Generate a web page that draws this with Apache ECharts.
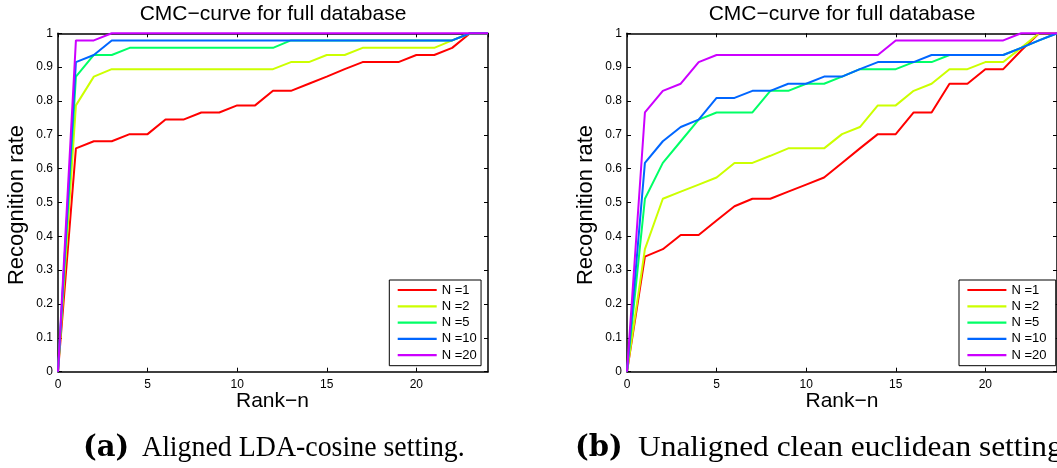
<!DOCTYPE html>
<html><head><meta charset="utf-8">
<script src="https://cdn.jsdelivr.net/npm/echarts@6/dist/echarts.min.js"></script>
<style>html,body{margin:0;padding:0;background:#fff;overflow:hidden}#c{width:1057px;height:468px}</style>
</head><body><div id="c"></div>
<script>
// ---- data ----
const ranks = [0,1,2,3,4,5,6,7,8,9,10,11,12,13,14,15,16,17,18,19,20,21,22,23,24];
const seriesNames = ['N =1','N =2','N =5','N =10','N =20'];
const colors = ['#ff0000','#ccff00','#00ff66','#0066ff','#cc00ff'];
const xTicks = [0,5,10,15,20];
const yTicks = [0,0.1,0.2,0.3,0.4,0.5,0.6,0.7,0.8,0.9,1];

// (a) Aligned LDA-cosine setting
const aN1  = [0,0.660,0.681,0.681,0.702,0.702,0.745,0.745,0.766,0.766,0.787,0.787,0.830,0.830,0.851,0.872,0.894,0.915,0.915,0.915,0.936,0.936,0.957,1,1];
const aN2  = [0,0.787,0.872,0.894,0.894,0.894,0.894,0.894,0.894,0.894,0.894,0.894,0.894,0.915,0.915,0.936,0.936,0.957,0.957,0.957,0.957,0.957,0.979,1,1];
const aN5  = [0,0.872,0.936,0.936,0.957,0.957,0.957,0.957,0.957,0.957,0.957,0.957,0.957,0.979,0.979,0.979,0.979,0.979,0.979,0.979,0.979,0.979,0.979,1,1];
const aN10 = [0,0.915,0.936,0.979,0.979,0.979,0.979,0.979,0.979,0.979,0.979,0.979,0.979,0.979,0.979,0.979,0.979,0.979,0.979,0.979,0.979,0.979,0.979,1,1];
const aN20 = [0,0.979,0.979,1,1,1,1,1,1,1,1,1,1,1,1,1,1,1,1,1,1,1,1,1,1];

// (b) Unaligned clean euclidean setting
const bN1  = [0,0.340,0.362,0.404,0.404,0.447,0.489,0.511,0.511,0.532,0.553,0.574,0.617,0.660,0.702,0.702,0.766,0.766,0.851,0.851,0.894,0.894,0.949,1,1];
const bN2  = [0,0.362,0.511,0.532,0.553,0.574,0.617,0.617,0.638,0.660,0.660,0.660,0.702,0.723,0.787,0.787,0.830,0.851,0.894,0.894,0.915,0.915,0.957,1,1];
const bN5  = [0,0.511,0.617,0.681,0.745,0.766,0.766,0.766,0.830,0.830,0.851,0.851,0.872,0.894,0.894,0.894,0.915,0.915,0.936,0.936,0.936,0.936,0.957,0.979,1];
const bN10 = [0,0.617,0.681,0.723,0.745,0.809,0.809,0.830,0.830,0.851,0.851,0.872,0.872,0.894,0.915,0.915,0.915,0.936,0.936,0.936,0.936,0.936,0.957,0.979,1];
const bN20 = [0,0.766,0.830,0.851,0.915,0.936,0.936,0.936,0.936,0.936,0.936,0.936,0.936,0.936,0.936,0.979,0.979,0.979,0.979,0.979,0.979,0.979,1,1,1];

const titleText = 'CMC\u2212curve for full database';
const xName = 'Rank\u2212n';
const yName = 'Recognition rate';
const capA = ['(a)', 'Aligned LDA-cosine setting.'];
const capB = ['(b)', 'Unaligned clean euclidean setting.'];

// ---- chart ----
const SANS = 'Liberation Sans';
const grids = [
  {left:58, top:33.3, width:430, height:338.4},
  {left:627, top:33.3, width:430, height:338.4}
];
function xAxis(g, pos, labels){
  return {type:'value', gridIndex:g, position:pos, min:0, max:24, interval:5,
    axisLine:{show:true, onZero:false, lineStyle:{color:'#000', width:1.5}},
    axisTick:{show:true, inside:true, length:4, lineStyle:{color:'#000', width:1}},
    axisLabel:{show:labels, showMaxLabel:false, margin:7, fontSize:12, color:'#000', fontFamily:SANS,
      formatter:v => xTicks.indexOf(v) >= 0 ? String(v) : ''},
    splitLine:{show:false}};
}
function yAxis(g, pos, labels){
  return {type:'value', gridIndex:g, position:pos, min:0, max:1, interval:0.1,
    axisLine:{show:true, onZero:false, lineStyle:{color:'#000', width:1.5}},
    axisTick:{show:true, inside:true, length:4, lineStyle:{color:'#000', width:1}},
    axisLabel:{show:labels, margin:5, fontSize:12, color:'#000', fontFamily:SANS,
      formatter:v => { const t = yTicks.find(k => Math.abs(k - v) < 1e-6); return t === undefined ? '' : String(t); }},
    splitLine:{show:false}};
}
const dataA = [aN1, aN2, aN5, aN10, aN20];
const dataB = [bN1, bN2, bN5, bN10, bN20];
const series = [];
[dataA, dataB].forEach((set, g) => {
  set.forEach((vals, i) => {
    series.push({type:'line', name:seriesNames[i], xAxisIndex:g*2, yAxisIndex:g*2,
      data: ranks.map((r, j) => [r, vals[j]]), symbol:'none', showSymbol:false,
      clip:false, animation:false, z:3+i,
      lineStyle:{color:colors[i], width:2}, itemStyle:{color:colors[i]}});
  });
});
function legend(left, padRight){
  return {left:left, top:280, orient:'vertical', padding:[3.5, padRight, 4, 8.4],
    itemWidth:39, itemHeight:2.2, itemGap:3.3, borderColor:'#000', borderWidth:1,
    backgroundColor:'#fff', selectedMode:false, icon:'rect',
    textStyle:{fontSize:13, color:'#000', fontFamily:SANS, lineHeight:13},
    data: seriesNames.map((n, i) => ({name:n, icon:'rect', itemStyle:{color:colors[i]}}))};
}
function txt(x, y, text, size, opts){
  return Object.assign({type:'text', x:x, y:y, silent:true, z:100,
    style:Object.assign({text:text, fontSize:size, fontFamily:SANS, fill:'#000', align:'center', verticalAlign:'middle'}, opts||{})});
}
const graphic = [
  txt(273, 14.5, titleText, 21),
  txt(842, 14.5, titleText, 21),
  txt(272.5, 401.5, xName, 21),
  txt(842, 401.5, xName, 21),
  Object.assign(txt(17, 205, yName, 22), {rotation:Math.PI/2}),
  Object.assign(txt(586, 205, yName, 22), {rotation:Math.PI/2}),
  txt(83, 448.5, capA[0], 29, {fontFamily:'DejaVu Serif', fontWeight:'bold', align:'left'}),
  Object.assign(txt(142, 448.5, capA[1], 29, {fontFamily:'Liberation Serif', align:'left'}), {scaleX:0.961}),
  txt(575, 448.5, capB[0], 29, {fontFamily:'DejaVu Serif', fontWeight:'bold', align:'left'}),
  Object.assign(txt(638, 448.5, capB[1], 29, {fontFamily:'Liberation Serif', align:'left'}), {scaleX:1.083})
];
const chart = echarts.init(document.getElementById('c'), null, {renderer:'canvas'});
chart.setOption({
  animation:false, backgroundColor:'#fff',
  grid: grids,
  xAxis: [xAxis(0,'bottom',true), xAxis(0,'top',false), xAxis(1,'bottom',true), xAxis(1,'top',false)],
  yAxis: [yAxis(0,'left',true), yAxis(0,'right',false), yAxis(1,'left',true), yAxis(1,'right',false)],
  legend: [legend(389.3, 4.3), legend(959, 9.3)],
  series: series,
  graphic: graphic
});
</script></body></html>
